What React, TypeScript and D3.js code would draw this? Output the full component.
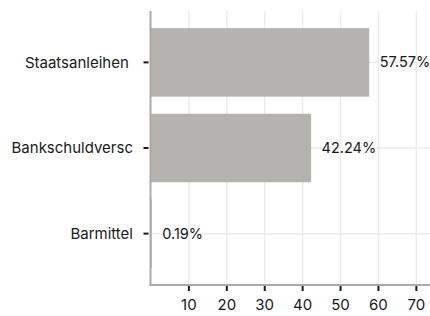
import React from 'react';
import * as d3 from 'd3';

const categories = ['Staatsanleihen ', 'Bankschuldversc', 'Barmittel'];
const values = [57.57, 42.24, 0.19];
const xTicks = [10, 20, 30, 40, 50, 60, 70];

const width = 430;
const height = 316;
const margin = { left: 151, top: 11, right: 0, bottom: 31 };

export default function App() {
  const x = d3.scaleLinear()
    .domain([0, 73.6])
    .range([margin.left, width - margin.right]);
  const y = d3.scaleBand()
    .domain(categories)
    .range([margin.top, height - margin.bottom])
    .paddingInner(0.2)
    .paddingOuter(0.2);

  const bottom = height - margin.bottom;
  const font = 'Inter, "Noto Sans", sans-serif';

  return (
    <svg width={width} height={height}
      style={{ position: 'absolute', left: 0, top: 0, display: 'block' }}
      fontFamily={font} fontSize={15}>
      {/* grid */}
      <g stroke="#ececec" strokeWidth={1.5}>
        {xTicks.map(t => (
          <line key={t} x1={x(t)} x2={x(t)} y1={margin.top} y2={bottom} />
        ))}
        {categories.map(c => {
          const cy = (y(c) as number) + y.bandwidth() / 2;
          return <line key={c} x1={margin.left} x2={width} y1={cy} y2={cy} />;
        })}
      </g>

      {/* bars */}
      {categories.map((c, i) => (
        <rect key={c}
          x={x(0)}
          y={y(c)}
          width={x(values[i]) - x(0)}
          height={y.bandwidth()}
          fill="#b5b3af" />
      ))}

      {/* value labels */}
      {categories.map((c, i) => (
        <text key={c}
          x={x(values[i]) + 10.5}
          y={(y(c) as number) + y.bandwidth() / 2}
          dy="0.35em"
          fontSize={14.5}
          fill="#1a1a1a">
          {values[i].toFixed(2)}%
        </text>
      ))}

      {/* axes */}
      <line x1={margin.left - 0.5} x2={margin.left - 0.5} y1={margin.top} y2={bottom + 1}
        stroke="#aaaaa8" strokeWidth={2} />
      <line x1={margin.left - 1.5} x2={width} y1={bottom} y2={bottom}
        stroke="#aaaaa8" strokeWidth={2} />

      {/* y ticks + labels */}
      {categories.map(c => {
        const cy = (y(c) as number) + y.bandwidth() / 2;
        return (
          <g key={c}>
            <line x1={143.5} x2={148.5} y1={cy} y2={cy} stroke="#1a1a1a" strokeWidth={2} />
            <text x={133} y={cy} dy="0.35em" textAnchor="end" fill="#1a1a1a"
              style={{ whiteSpace: 'pre' }}>{c}</text>
          </g>
        );
      })}

      {/* x ticks + labels */}
      {xTicks.map(t => (
        <g key={t}>
          <line x1={x(t)} x2={x(t)} y1={bottom + 1} y2={bottom + 6} stroke="#1a1a1a" strokeWidth={2} />
          <text x={x(t)} y={bottom + 20} dy="0.35em" textAnchor="middle" fill="#1a1a1a">{t}</text>
        </g>
      ))}
    </svg>
  );
}
